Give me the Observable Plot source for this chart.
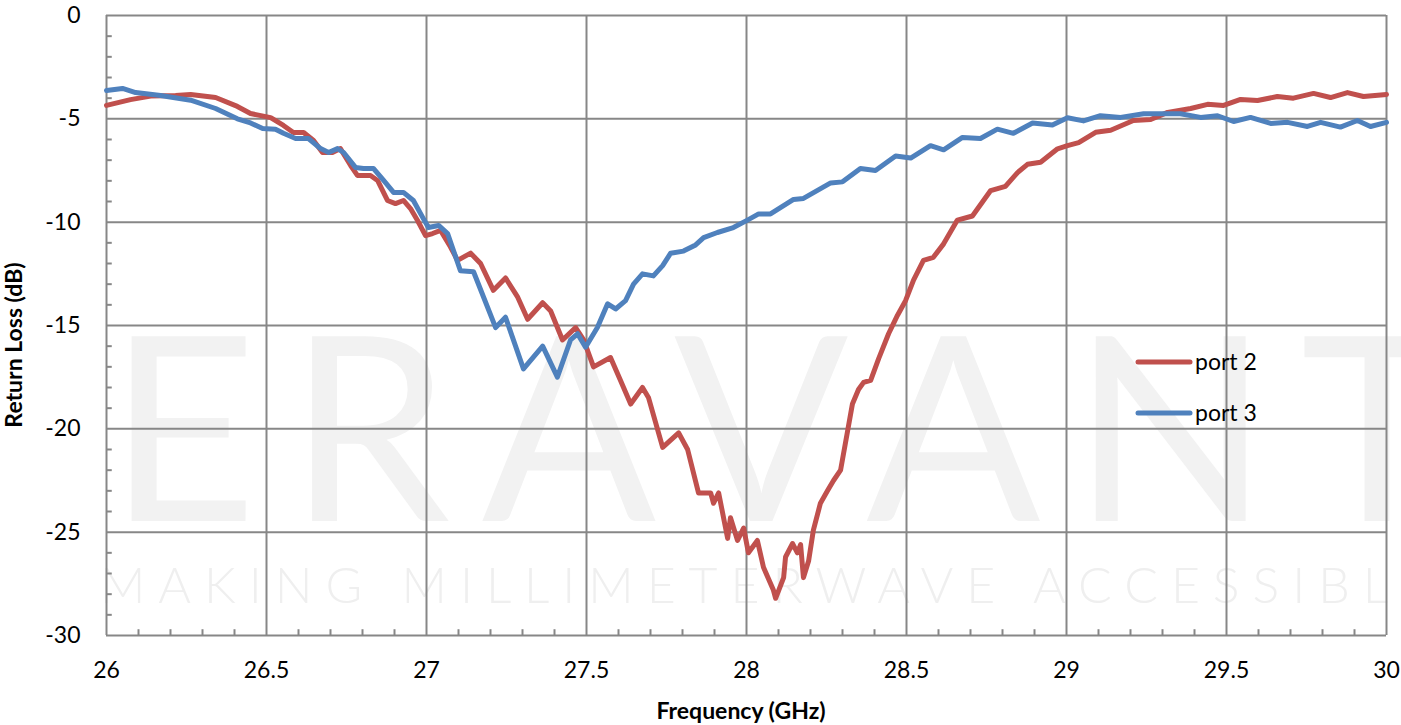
<!DOCTYPE html>
<html><head><meta charset="utf-8">
<script src="https://cdn.jsdelivr.net/npm/d3@7"></script>
<script src="https://cdn.jsdelivr.net/npm/@observablehq/plot@0.6"></script>
<style>
body{margin:0;background:#fff}
#chart{position:relative;width:1401px;height:725px}
</style>
</head><body><div id="chart"></div>
<script>
// ---- data ----
const freqPort2 = [26.000,26.075,26.138,26.216,26.263,26.341,26.409,26.450,26.513,26.553,26.584,26.616,26.647,26.675,26.706,26.731,26.763,26.784,26.825,26.847,26.878,26.903,26.928,26.950,26.972,26.997,27.019,27.044,27.075,27.097,27.138,27.169,27.209,27.247,27.284,27.316,27.363,27.388,27.425,27.466,27.491,27.522,27.575,27.606,27.638,27.675,27.694,27.738,27.788,27.816,27.850,27.888,27.897,27.913,27.941,27.950,27.972,27.991,28.006,28.034,28.053,28.084,28.091,28.116,28.122,28.144,28.159,28.169,28.178,28.194,28.209,28.231,28.253,28.272,28.294,28.316,28.331,28.350,28.366,28.388,28.413,28.444,28.472,28.497,28.522,28.553,28.584,28.616,28.659,28.706,28.763,28.809,28.847,28.878,28.919,28.972,29.003,29.038,29.091,29.138,29.209,29.263,29.316,29.388,29.441,29.491,29.544,29.597,29.659,29.709,29.772,29.825,29.878,29.928,30.000];
const port2 = [-4.35,-4.07,-3.90,-3.87,-3.82,-3.97,-4.40,-4.74,-4.94,-5.32,-5.66,-5.66,-6.05,-6.63,-6.63,-6.44,-7.26,-7.74,-7.74,-7.98,-8.95,-9.10,-8.95,-9.34,-9.92,-10.65,-10.55,-10.40,-11.20,-11.85,-11.50,-12.00,-13.30,-12.70,-13.60,-14.70,-13.90,-14.30,-15.70,-15.10,-15.70,-17.00,-16.55,-17.65,-18.80,-18.00,-18.50,-20.90,-20.20,-21.00,-23.10,-23.10,-23.60,-23.10,-25.30,-24.30,-25.40,-24.80,-26.00,-25.40,-26.70,-27.80,-28.20,-27.20,-26.20,-25.55,-26.00,-25.60,-27.20,-26.40,-24.90,-23.60,-23.00,-22.50,-22.00,-20.10,-18.80,-18.10,-17.75,-17.65,-16.60,-15.40,-14.50,-13.80,-12.80,-11.85,-11.70,-11.05,-9.90,-9.70,-8.47,-8.27,-7.60,-7.20,-7.10,-6.45,-6.30,-6.15,-5.65,-5.55,-5.08,-5.03,-4.69,-4.50,-4.30,-4.35,-4.06,-4.11,-3.92,-4.00,-3.77,-3.97,-3.73,-3.92,-3.82];

const freqPort3 = [26.000,26.050,26.091,26.169,26.263,26.341,26.409,26.450,26.488,26.528,26.553,26.591,26.631,26.669,26.694,26.722,26.741,26.778,26.803,26.834,26.866,26.897,26.928,26.959,26.988,27.006,27.038,27.066,27.106,27.147,27.216,27.247,27.303,27.363,27.409,27.450,27.472,27.497,27.534,27.566,27.591,27.622,27.647,27.675,27.709,27.738,27.763,27.803,27.841,27.866,27.909,27.959,28.003,28.038,28.075,28.147,28.178,28.263,28.300,28.356,28.403,28.466,28.513,28.575,28.616,28.675,28.731,28.784,28.834,28.894,28.956,29.003,29.053,29.106,29.169,29.241,29.356,29.419,29.472,29.522,29.575,29.638,29.691,29.753,29.794,29.856,29.909,29.950,30.000];
const port3 = [-3.63,-3.53,-3.73,-3.87,-4.10,-4.50,-5.00,-5.20,-5.47,-5.50,-5.70,-5.95,-5.95,-6.44,-6.63,-6.44,-6.63,-7.35,-7.40,-7.40,-7.98,-8.56,-8.56,-8.95,-9.77,-10.26,-10.16,-10.55,-12.35,-12.40,-15.10,-14.60,-17.10,-16.00,-17.50,-15.70,-15.40,-16.05,-15.10,-13.95,-14.20,-13.80,-13.00,-12.50,-12.60,-12.10,-11.50,-11.40,-11.10,-10.75,-10.50,-10.26,-9.90,-9.60,-9.60,-8.90,-8.85,-8.10,-8.05,-7.40,-7.50,-6.80,-6.90,-6.30,-6.50,-5.90,-5.95,-5.50,-5.70,-5.20,-5.30,-4.95,-5.10,-4.85,-4.93,-4.75,-4.75,-4.93,-4.85,-5.13,-4.93,-5.22,-5.17,-5.37,-5.17,-5.40,-5.08,-5.37,-5.17];

const seriesNames = ["port 2", "port 3"];
const seriesColors = ["#C0504D", "#4F81BD"];
const xTicks = [26, 26.5, 27, 27.5, 28, 28.5, 29, 29.5, 30];
const yTicks = [0, -5, -10, -15, -20, -25, -30];
const xLabel = "Frequency (GHz)";
const yLabel = "Return Loss (dB)";
const watermarkName = "ERAVANT";
const watermarkTag = "MAKING MILLIMETERWAVE ACCESSIBLE";

// ---- build tables ----
const rows2 = freqPort2.map((f, i) => ({f, v: port2[i]}));
const rows3 = freqPort3.map((f, i) => ({f, v: port3[i]}));
const minorX = d3.range(260, 301).map(d => d / 10).filter(d => Math.abs(d * 2 - Math.round(d * 2)) > 1e-6);
const minorY = d3.range(-30, 1).filter(d => d % 5 !== 0);
const gridColor = "#878787";
const font = "Lato, 'Open Sans', sans-serif";

const W = 1401, H = 725, mL = 106, mR = 15, mT = 15, mB = 90;

const chart = Plot.plot({
  width: W, height: H,
  marginLeft: mL, marginRight: mR, marginTop: mT, marginBottom: mB,
  style: {fontFamily: font, fontSize: "23px", color: "#000", background: "#fff", overflow: "hidden"},
  x: {domain: [26, 30]},
  y: {domain: [-30, 0]},
  marks: [
    Plot.gridX(xTicks, {stroke: gridColor, strokeOpacity: 1, strokeWidth: 2}),
    Plot.gridY(yTicks, {stroke: gridColor, strokeOpacity: 1, strokeWidth: 2}),
    Plot.ruleX(minorX, {y1: -30, y2: -29.72, stroke: gridColor, strokeWidth: 2}),
    Plot.ruleY(minorY, {x1: 26, x2: 26.018, stroke: gridColor, strokeWidth: 2}),
    Plot.axisX(xTicks, {tickSize: 0, tickPadding: 26, tickFormat: d => String(d), label: null, fill: "#000"}),
    Plot.axisY(yTicks, {tickSize: 0, tickPadding: 26, tickFormat: d => String(d), label: null, fill: "#000"}),
    Plot.line(rows2, {x: "f", y: "v", stroke: seriesColors[0], strokeWidth: 5, strokeLinejoin: "round", strokeLinecap: "round"}),
    Plot.line(rows3, {x: "f", y: "v", stroke: seriesColors[1], strokeWidth: 5, strokeLinejoin: "round", strokeLinecap: "round"})
  ]
});
document.getElementById("chart").appendChild(chart);

const svg = d3.select(chart);
// watermark behind everything
const wm = svg.insert("g", ":first-child").attr("pointer-events", "none").attr("text-anchor", "start");
wm.append("text")
  .attr("x", 108).attr("y", 521)
  .attr("text-anchor", "start")
  .attr("textLength", 1345).attr("lengthAdjust", "spacing")
  .attr("font-family", font).attr("font-weight", 400)
  .attr("font-size", 258).attr("fill", "#f2f2f2")
  .text(watermarkName);
wm.append("text")
  .attr("x", 100).attr("y", 603)
  .attr("text-anchor", "start")
  .attr("textLength", 1330).attr("lengthAdjust", "spacing")
  .attr("font-family", font).attr("font-weight", 300)
  .attr("font-size", 50).attr("fill", "#efefef")
  .text(watermarkTag);

// axis titles
svg.append("text")
  .attr("x", mL + (W - mL - mR) / 2 - 5).attr("y", 719)
  .attr("text-anchor", "middle")
  .attr("font-family", font).attr("font-weight", "bold").attr("font-size", 23)
  .text(xLabel);
svg.append("text")
  .attr("transform", "translate(22,345) rotate(-90)")
  .attr("text-anchor", "middle")
  .attr("font-family", font).attr("font-weight", "bold").attr("font-size", 23)
  .text(yLabel);

// legend
const lg = svg.append("g").attr("font-family", font).attr("font-size", 23).attr("text-anchor", "start");
seriesNames.forEach((name, i) => {
  const yy = 362 + i * 51;
  lg.append("line").attr("x1", 1138).attr("x2", 1190).attr("y1", yy).attr("y2", yy)
    .attr("stroke", seriesColors[i]).attr("stroke-width", 5).attr("stroke-linecap", "round");
  lg.append("text").attr("x", 1195).attr("y", yy + 8).attr("fill", "#000").attr("text-anchor", "start").text(name);
});
</script>
</body></html>
